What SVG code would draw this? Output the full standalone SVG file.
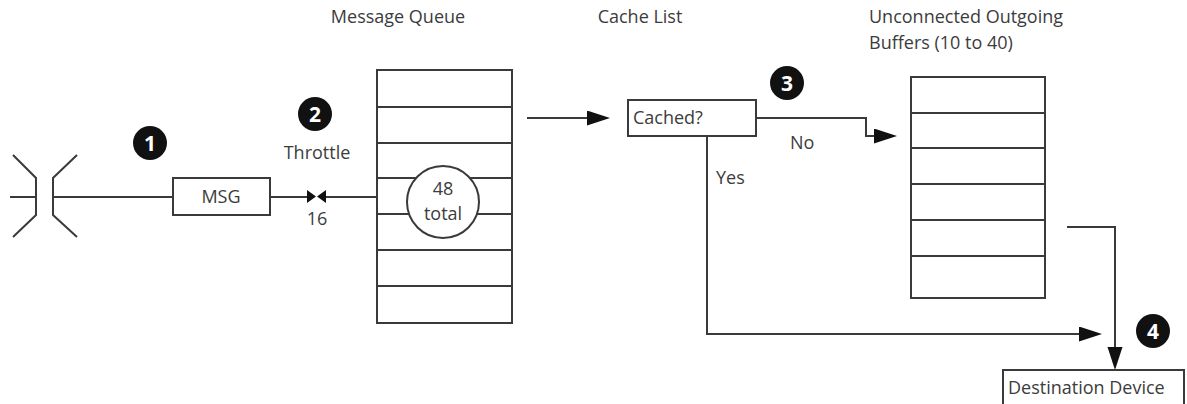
<svg xmlns="http://www.w3.org/2000/svg" width="1187" height="404" viewBox="0 0 1187 404">
<style>
  .t{font-family:"Open Sans","Liberation Sans",sans-serif;font-size:18px;fill:#3c3c3c}
  .c{text-anchor:middle}
  .box{fill:#fff;stroke:#3a3a3a;stroke-width:2}
  .ln{fill:none;stroke:#3a3a3a;stroke-width:2}
  .badge{fill:#111}
  .bn{font-family:"Open Sans","Liberation Sans",sans-serif;font-size:21px;font-weight:bold;fill:#fff;text-anchor:middle}
</style>
<defs>
  <marker id="ah" markerUnits="userSpaceOnUse" markerWidth="24" markerHeight="16" refX="3" refY="7.5" orient="auto">
    <path d="M0,0 L23,7.5 L0,15 z" fill="#111"/>
  </marker>
</defs>
<rect width="1187" height="404" fill="#fff"/>

<g id="titles">
  <text class="t c" x="398" y="23">Message Queue</text>
  <text class="t c" x="640" y="23">Cache List</text>
  <text class="t" x="869" y="23">Unconnected Outgoing</text>
  <text class="t" x="869" y="49">Buffers (10 to 40)</text>
</g>

<g id="connector-symbol">
  <path class="ln" d="M13,155 L36,178 L36,215 L13,237"/>
  <path class="ln" d="M77,155 L53,178 L53,215 L77,237"/>
</g>

<g id="connectors">
  <path class="ln" d="M10,197 H36"/>
  <path class="ln" d="M53,197 H173"/>
  <path class="ln" d="M270,197 H308"/>
  <path class="ln" d="M325,197 H377"/>
  <path class="ln" d="M527,118 H590" marker-end="url(#ah)"/>
  <path class="ln" d="M756,118 H866 V136 H877" marker-end="url(#ah)"/>
  <path class="ln" d="M707,136 V334 H1082" marker-end="url(#ah)"/>
  <path class="ln" d="M1067,227 H1115 V350" marker-end="url(#ah)"/>
</g>

<g id="msg">
  <rect class="box" x="173" y="178" width="97" height="37"/>
  <text class="t c" x="221" y="203">MSG</text>
</g>

<g id="throttle">
  <path d="M307,190 L316,196.5 L307,203 z M326,190 L317,196.5 L326,203 z" fill="#111"/>
  <text class="t c" x="317" y="159">Throttle</text>
  <text class="t c" x="317" y="225">16</text>
</g>

<g id="message-queue">
  <rect class="box" x="377" y="70" width="135" height="253"/>
  <path class="ln" d="M377,107 H512 M377,143 H512 M377,178 H512 M377,214 H512 M377,250 H512 M377,286 H512"/>
  <circle class="box" cx="443" cy="202" r="36"/>
  <text class="t c" x="443" y="195">48</text>
  <text class="t c" x="443" y="220">total</text>
</g>

<g id="cached">
  <rect class="box" x="628" y="100" width="128" height="36"/>
  <text class="t" x="633" y="124">Cached?</text>
</g>

<g id="labels">
  <text class="t" x="716" y="184">Yes</text>
  <text class="t" x="790" y="149">No</text>
</g>

<g id="buffers">
  <rect class="box" x="911" y="77" width="134" height="221"/>
  <path class="ln" d="M911,113 H1045 M911,148 H1045 M911,184 H1045 M911,220 H1045 M911,256 H1045"/>
</g>

<g id="destination">
  <rect class="box" x="1003" y="370" width="181" height="44"/>
  <text class="t" x="1008" y="394">Destination Device</text>
</g>

<g id="badges">
  <g id="badge1"><circle class="badge" cx="150" cy="143" r="17"/><text class="bn" x="150" y="150.5">1</text></g>
  <g id="badge2"><circle class="badge" cx="315" cy="114" r="17"/><text class="bn" x="315" y="121.5">2</text></g>
  <g id="badge3"><circle class="badge" cx="787" cy="83" r="17"/><text class="bn" x="787" y="90.5">3</text></g>
  <g id="badge4"><circle class="badge" cx="1153" cy="331" r="17"/><text class="bn" x="1153" y="338.5">4</text></g>
</g>
</svg>
